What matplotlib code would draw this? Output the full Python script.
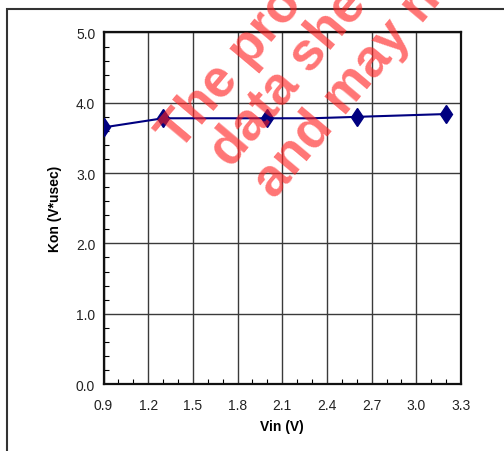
"""Kon vs Vin chart with watermark"""

import matplotlib
matplotlib.use('Agg')
from matplotlib import pyplot as plt
from matplotlib.patches import Rectangle
from matplotlib.ticker import MultipleLocator

plt.rcParams['font.family'] = ['Liberation Sans', 'DejaVu Sans']

# Data (the 2.3 V point has no marker)
vin = [0.9, 1.3, 2.0, 2.3, 2.6, 3.2]
kon = [3.65, 3.78, 3.78, 3.78, 3.80, 3.84]
marked = [0, 1, 2, 4, 5]

x_ticks = [0.9, 1.2, 1.5, 1.8, 2.1, 2.4, 2.7, 3.0, 3.3]
y_ticks = [0.0, 1.0, 2.0, 3.0, 4.0, 5.0]

watermark = ['The product', 'data sheet', 'and may not']

fig = plt.figure(figsize=(5.04, 4.52), dpi=100)
ax = fig.add_axes([0.2054, 0.1482, 0.7093, 0.7777])

ax.plot(vin, kon, color='#000080', lw=1.5, marker='d', markersize=9.5,
        markevery=marked, markerfacecolor='#000080', markeredgecolor='#000080',
        zorder=3)

ax.set_xlim(0.9, 3.3)
ax.set_ylim(0.0, 5.0)
ax.set_xticks(x_ticks)
ax.set_xticklabels(['%.1f' % v for v in x_ticks])
ax.set_yticks(y_ticks)
ax.set_yticklabels(['%.1f' % v for v in y_ticks])
ax.xaxis.set_minor_locator(MultipleLocator(0.1))
ax.yaxis.set_minor_locator(MultipleLocator(0.2))
ax.tick_params(which='both', direction='in', labelsize=10, labelcolor='#222222')
ax.tick_params(which='major', length=0)
ax.tick_params(which='minor', length=3.5, width=0.8)
ax.tick_params(axis='x', which='major', pad=10)
ax.tick_params(axis='y', which='major', pad=6)
ax.grid(True, which='major', color='#3a3a3a', lw=1.0)
for s in ax.spines.values():
    s.set_linewidth(1.6)
    s.set_color('#111111')

ax.set_xlabel('Vin (V)', fontsize=10, fontweight='bold', labelpad=5)
ax.set_ylabel('Kon (V*usec)', fontsize=10, fontweight='bold', labelpad=10)

# outer frame (runs off the right and bottom edges)
fig.patches.append(Rectangle((7 / 504, -0.1), 1.2, 1 - 10 / 452 + 0.1,
                             transform=fig.transFigure, fill=False,
                             edgecolor='#333333', lw=1.5))

# semi-transparent red watermark
starts = [(180, 152), (231, 169), (275, 200)]
for (px, py), txt in zip(starts, watermark):
    fig.text(px / 504, 1 - py / 452, txt, rotation=50, rotation_mode='anchor',
             ha='left', va='baseline', fontsize=38, fontweight='bold',
             color='#ff2020', alpha=0.62, zorder=10)

plt.savefig('out.png', dpi=100)
